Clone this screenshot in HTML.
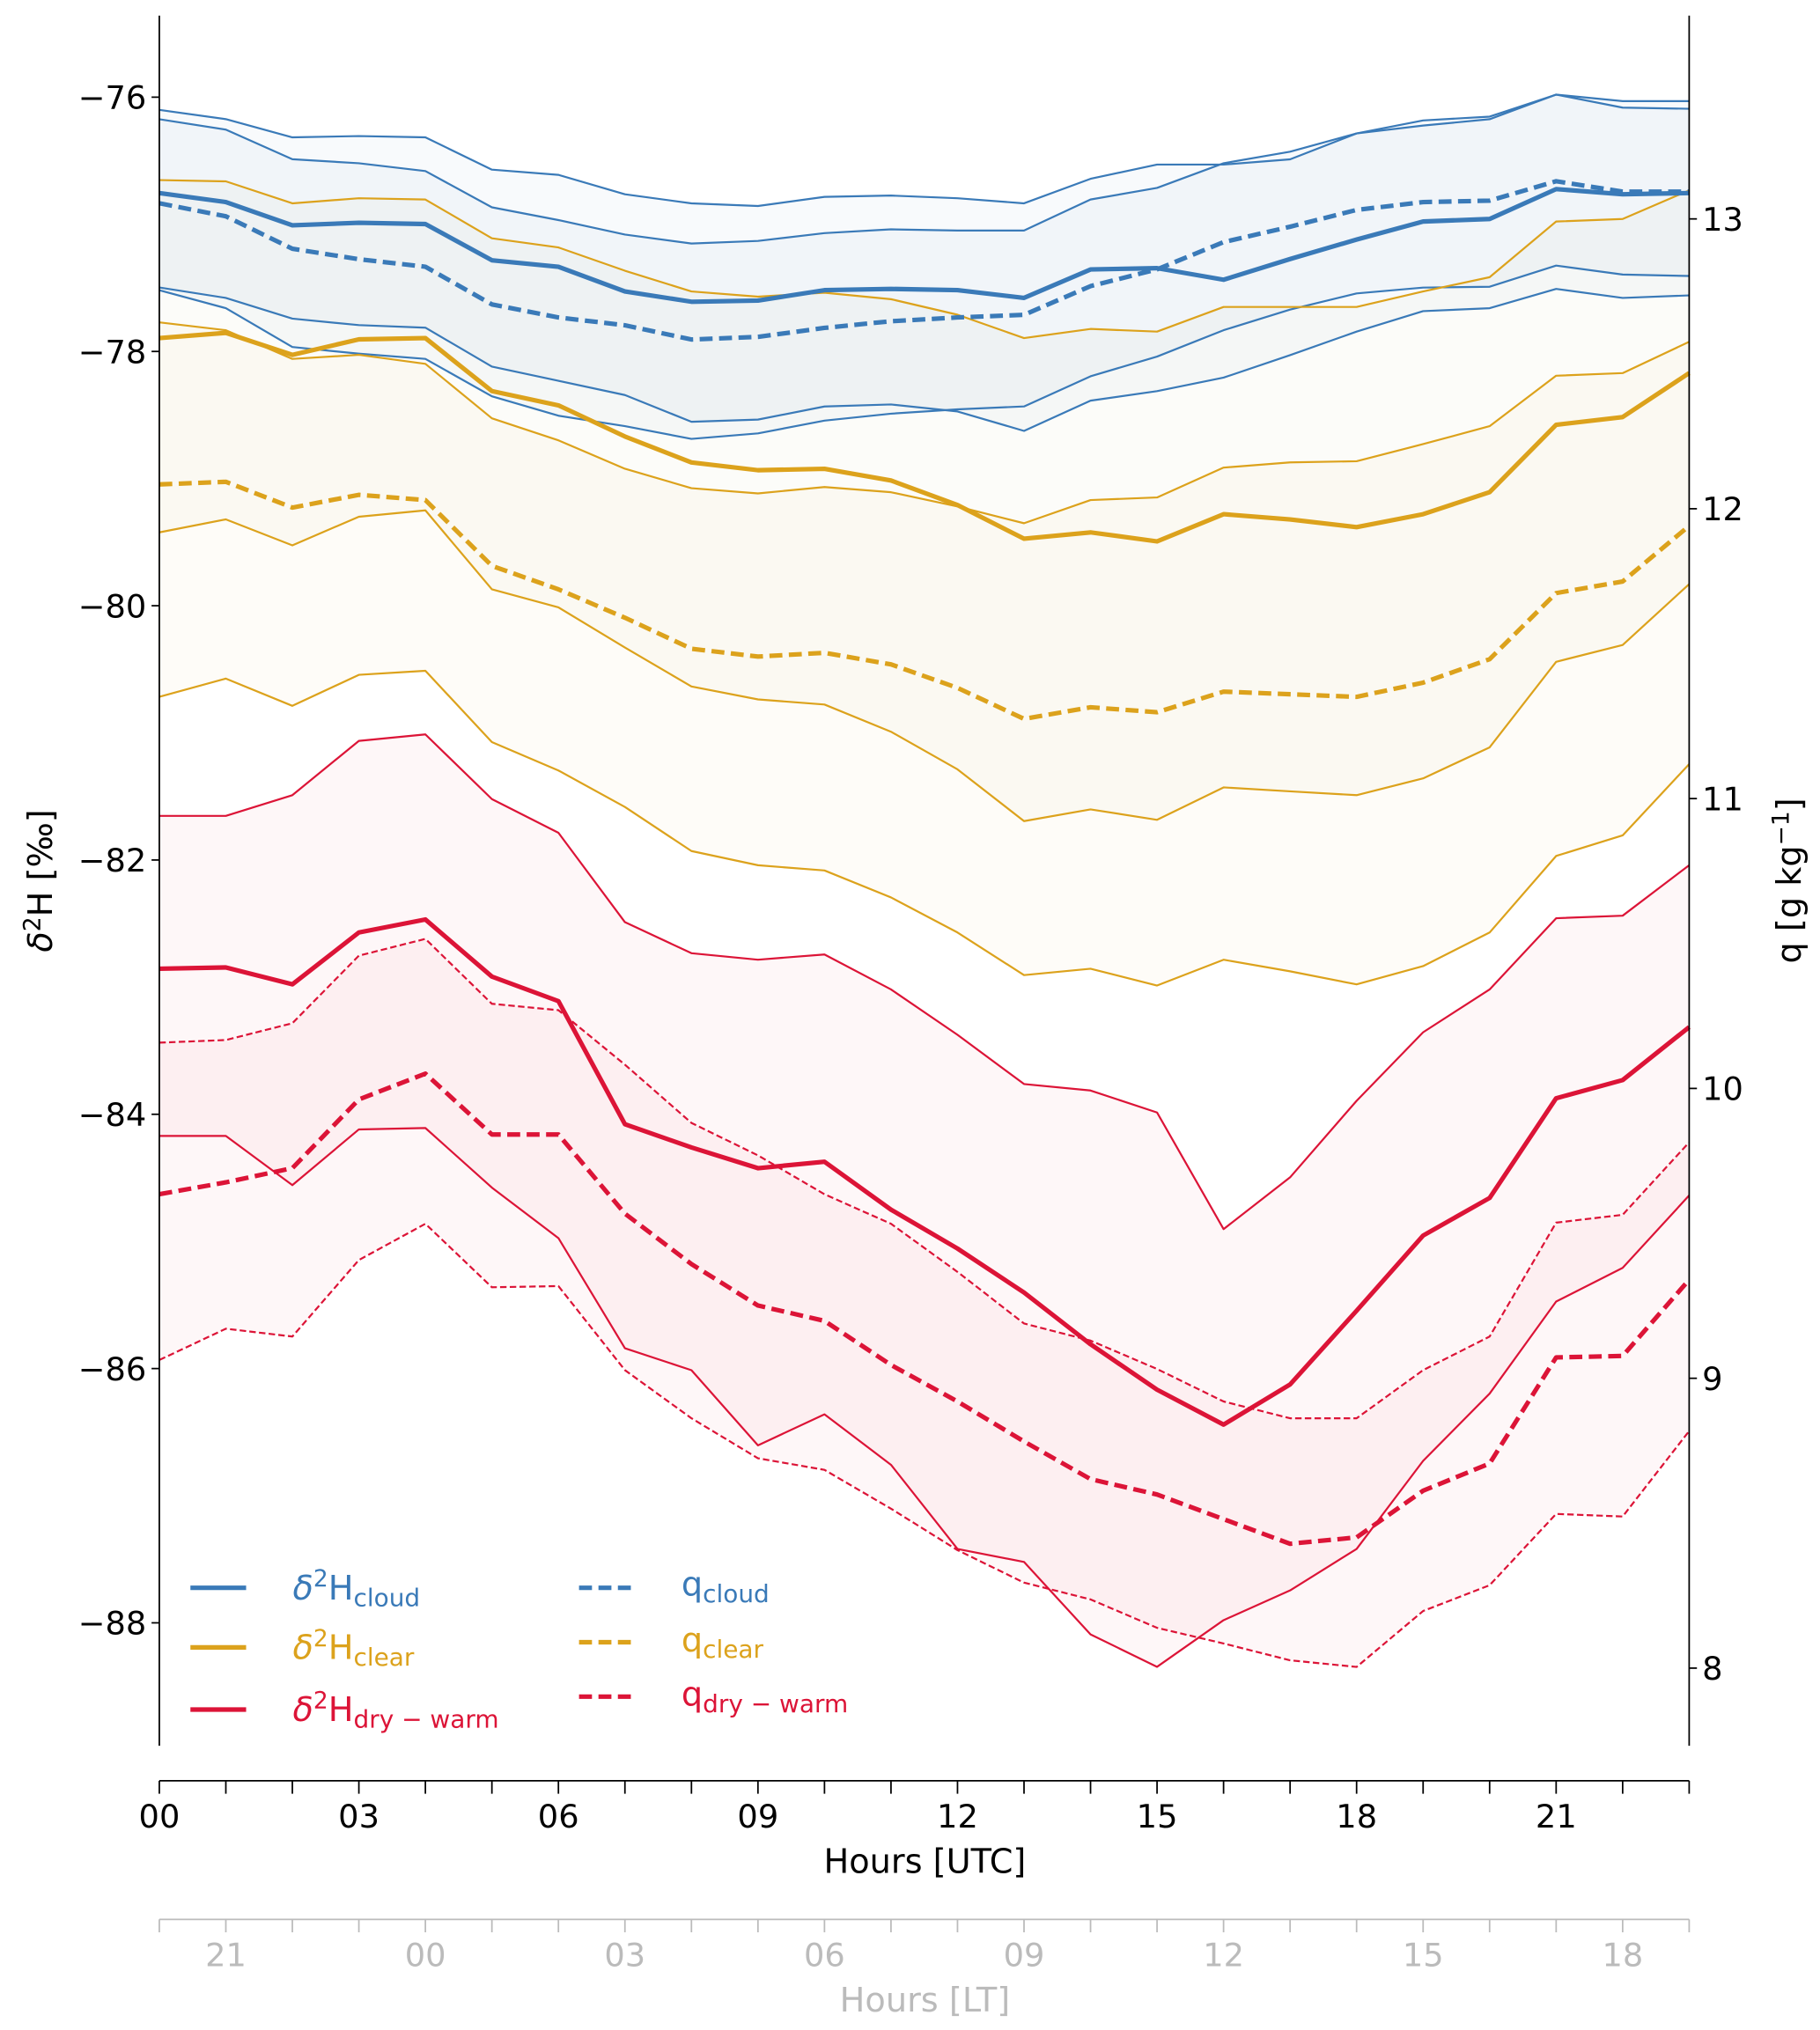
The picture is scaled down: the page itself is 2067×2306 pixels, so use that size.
<!DOCTYPE html>
<html><head><meta charset="utf-8"><style>
html,body{margin:0;padding:0;background:#fff}
svg{display:block}
text{font-family:"DejaVu Sans","Liberation Sans",sans-serif}
</style></head><body>
<svg id="chart" width="2067" height="2306" viewBox="0 0 1405 1567.4" xmlns="http://www.w3.org/2000/svg">
<g id="fills"></g>
<g id="lines"></g>
<g id="axes"></g>
<g id="legend">
  <line x1="147" y1="1226" x2="190" y2="1226" stroke="#3a7ab8" stroke-width="3.5"/>
  <text x="226" y="1235" font-size="26" fill="#3a7ab8"><tspan font-style="italic">δ</tspan><tspan dy="-10" font-size="18">2</tspan><tspan dy="10">H</tspan><tspan font-size="19" dy="5">cloud</tspan></text>
  <line x1="147" y1="1272" x2="190" y2="1272" stroke="#dca21c" stroke-width="3.5"/>
  <text x="226" y="1281" font-size="26" fill="#dca21c"><tspan font-style="italic">δ</tspan><tspan dy="-10" font-size="18">2</tspan><tspan dy="10">H</tspan><tspan font-size="19" dy="5">clear</tspan></text>
  <line x1="147" y1="1320" x2="190" y2="1320" stroke="#dc1437" stroke-width="3.5"/>
  <text x="226" y="1329" font-size="26" fill="#dc1437"><tspan font-style="italic">δ</tspan><tspan dy="-10" font-size="18">2</tspan><tspan dy="10">H</tspan><tspan font-size="19" dy="5">dry − warm</tspan></text>
  <line x1="447" y1="1226" x2="490" y2="1226" stroke="#3a7ab8" stroke-width="3.5" stroke-dasharray="10 5"/>
  <text x="526" y="1232" font-size="26" fill="#3a7ab8">q<tspan font-size="19" dy="5">cloud</tspan></text>
  <line x1="447" y1="1268" x2="490" y2="1268" stroke="#dca21c" stroke-width="3.5" stroke-dasharray="10 5"/>
  <text x="526" y="1275" font-size="26" fill="#dca21c">q<tspan font-size="19" dy="5">clear</tspan></text>
  <line x1="447" y1="1310" x2="490" y2="1310" stroke="#dc1437" stroke-width="3.5" stroke-dasharray="10 5"/>
  <text x="526" y="1317" font-size="26" fill="#dc1437">q<tspan font-size="19" dy="5">dry − warm</tspan></text>
</g>
</svg>
<script>
const hours = [0,1,2,3,4,5,6,7,8,9,10,11,12,13,14,15,16,17,18,19,20,21,22,23];
const leftTicks = [-76,-78,-80,-82,-84,-86,-88];
const rightTicks = [8,9,10,11,12,13];
const utcLabels = ['00','03','06','09','12','15','18','21'];
const utcLabelHours = [0,3,6,9,12,15,18,21];
const ltLabels = ['21','00','03','06','09','12','15','18'];
const ltLabelHours = [1,4,7,10,13,16,19,22];

const d2hCloud = [-76.754,-76.825,-77.008,-76.988,-76.998,-77.283,-77.334,-77.528,-77.609,-77.6,-77.518,-77.508,-77.518,-77.579,-77.355,-77.345,-77.436,-77.273,-77.12,-76.978,-76.958,-76.723,-76.764,-76.754];
const d2hCloudHi = [-76.10,-76.173,-76.316,-76.306,-76.316,-76.57,-76.611,-76.764,-76.835,-76.856,-76.784,-76.774,-76.795,-76.835,-76.642,-76.53,-76.53,-76.489,-76.285,-76.183,-76.153,-75.98,-76.031,-76.031];
const d2hCloudLo = [-77.497,-77.579,-77.742,-77.793,-77.813,-78.119,-78.231,-78.343,-78.553,-78.536,-78.433,-78.417,-78.472,-78.625,-78.387,-78.312,-78.206,-78.029,-77.844,-77.683,-77.66,-77.508,-77.579,-77.559];
const qCloud = [13.054,13.009,12.897,12.861,12.835,12.705,12.66,12.633,12.584,12.593,12.624,12.647,12.66,12.669,12.768,12.826,12.92,12.973,13.031,13.058,13.063,13.13,13.094,13.094];
const qCloudHi = [13.344,13.308,13.206,13.192,13.165,13.04,12.996,12.946,12.915,12.924,12.951,12.964,12.96,12.96,13.067,13.107,13.192,13.232,13.295,13.322,13.344,13.429,13.384,13.38];
const qCloudLo = [12.754,12.692,12.558,12.535,12.517,12.388,12.321,12.285,12.241,12.26,12.304,12.328,12.343,12.353,12.457,12.525,12.616,12.687,12.743,12.763,12.766,12.839,12.808,12.803];

const d2hClear = [-77.895,-77.854,-78.027,-77.905,-77.895,-78.312,-78.424,-78.669,-78.873,-78.934,-78.923,-79.015,-79.208,-79.473,-79.423,-79.494,-79.28,-79.321,-79.382,-79.28,-79.107,-78.577,-78.516,-78.17];
const d2hClearHi = [-76.652,-76.662,-76.835,-76.795,-76.805,-77.11,-77.182,-77.365,-77.528,-77.569,-77.538,-77.589,-77.711,-77.895,-77.823,-77.844,-77.65,-77.65,-77.65,-77.528,-77.416,-76.978,-76.958,-76.733];
const d2hClearLo = [-79.423,-79.321,-79.525,-79.3,-79.25,-79.871,-80.013,-80.329,-80.635,-80.737,-80.777,-80.991,-81.287,-81.694,-81.602,-81.684,-81.429,-81.46,-81.49,-81.358,-81.114,-80.441,-80.309,-79.83];
const qClear = [12.084,12.093,12.004,12.048,12.03,11.803,11.722,11.624,11.517,11.49,11.503,11.463,11.382,11.275,11.315,11.298,11.369,11.36,11.351,11.4,11.481,11.709,11.749,11.941];
const qClearHi = [12.643,12.616,12.517,12.531,12.5,12.312,12.236,12.138,12.071,12.053,12.075,12.057,12.008,11.95,12.03,12.039,12.142,12.16,12.164,12.223,12.285,12.459,12.468,12.576];
const qClearLo = [11.351,11.414,11.32,11.427,11.441,11.195,11.097,10.971,10.819,10.77,10.752,10.659,10.538,10.391,10.413,10.355,10.444,10.404,10.359,10.422,10.538,10.802,10.873,11.119];

const d2hDry = [-82.855,-82.845,-82.978,-82.57,-82.468,-82.917,-83.11,-84.078,-84.261,-84.424,-84.373,-84.75,-85.056,-85.402,-85.809,-86.166,-86.441,-86.125,-85.545,-84.954,-84.658,-83.874,-83.731,-83.314];
const d2hDryHi = [-81.653,-81.653,-81.49,-81.063,-81.012,-81.521,-81.786,-82.489,-82.733,-82.784,-82.743,-83.018,-83.375,-83.762,-83.813,-83.986,-84.903,-84.496,-83.894,-83.355,-83.018,-82.458,-82.438,-82.041];
const d2hDryLo = [-84.17,-84.17,-84.557,-84.119,-84.108,-84.577,-84.974,-85.84,-86.013,-86.604,-86.36,-86.757,-87.419,-87.521,-88.091,-88.346,-87.979,-87.745,-87.419,-86.726,-86.197,-85.473,-85.208,-84.638];
const qDry = [9.635,9.676,9.725,9.962,10.051,9.841,9.841,9.568,9.394,9.251,9.198,9.046,8.92,8.782,8.652,8.599,8.514,8.429,8.451,8.612,8.706,9.072,9.077,9.34];
const qDryHi = [10.158,10.167,10.225,10.458,10.516,10.292,10.27,10.082,9.881,9.769,9.635,9.533,9.367,9.189,9.13,9.032,8.92,8.862,8.862,9.028,9.144,9.537,9.564,9.814];
const qDryLo = [9.063,9.171,9.144,9.408,9.533,9.314,9.318,9.028,8.862,8.724,8.684,8.55,8.407,8.295,8.237,8.139,8.085,8.027,8.004,8.197,8.286,8.532,8.523,8.818];

const NS='http://www.w3.org/2000/svg';
const X0=123, X1=1304, YT=12, YB=1348;
const xS = h => X0 + (X1-X0)*h/23;
const yL = v => 75 + (-76 - v)*98.17;
const yR = q => 169 + (13 - q)*223.8;

function mk(tag, attrs, parent){const e=document.createElementNS(NS,tag);for(const k in attrs)e.setAttribute(k,attrs[k]);parent.appendChild(e);return e;}
const fills=document.getElementById('fills'), lines=document.getElementById('lines'), axes=document.getElementById('axes');

function pts(arr, ys){return arr.map((v,i)=>xS(hours[i]).toFixed(2)+','+ys(v).toFixed(2));}
function band(hi, lo, ys, color, name){
  const p = pts(hi,ys).concat(pts(lo,ys).reverse());
  const e = mk('polygon',{points:p.join(' '),fill:color,'fill-opacity':0.035,stroke:'none'},fills);
  
  
}
function line(arr, ys, color, w, dash, name){
  const e = mk('polyline',{points:pts(arr,ys).join(' '),fill:'none',stroke:color,'stroke-width':w,'stroke-linejoin':'round'},lines);
  if(dash) e.setAttribute('stroke-dasharray',dash);
  
  
}
const B='#3a7ab8', Y='#dca21c', R='#dc1437';
band(d2hCloudHi,d2hCloudLo,yL,B,'band-d2h-cloud');
band(qCloudHi,qCloudLo,yR,B,'band-q-cloud');
band(d2hClearHi,d2hClearLo,yL,'#b5a060','band-d2h-clear');
band(qClearHi,qClearLo,yR,'#d8b040','band-q-clear');
band(d2hDryHi,d2hDryLo,yL,R,'band-d2h-drywarm');
band(qDryHi,qDryLo,yR,R,'band-q-drywarm');

line(d2hCloudHi,yL,B,1.5,null,'line-d2h-cloud-upper');
line(d2hCloudLo,yL,B,1.5,null,'line-d2h-cloud-lower');
line(qCloudHi,yR,B,1.5,null,'line-q-cloud-upper');
line(qCloudLo,yR,B,1.5,null,'line-q-cloud-lower');
line(d2hClearHi,yL,Y,1.5,null,'line-d2h-clear-upper');
line(d2hClearLo,yL,Y,1.5,null,'line-d2h-clear-lower');
line(qClearHi,yR,Y,1.5,null,'line-q-clear-upper');
line(qClearLo,yR,Y,1.5,null,'line-q-clear-lower');
line(d2hDryHi,yL,R,1.5,null,'line-d2h-drywarm-upper');
line(d2hDryLo,yL,R,1.5,null,'line-d2h-drywarm-lower');
line(qDryHi,yR,R,1.5,'5 2.5','line-q-drywarm-upper');
line(qDryLo,yR,R,1.5,'5 2.5','line-q-drywarm-lower');
line(d2hCloud,yL,B,3.5,null,'line-d2h-cloud');
line(qCloud,yR,B,3.5,'10 5','line-q-cloud');
line(d2hClear,yL,Y,3.5,null,'line-d2h-clear');
line(qClear,yR,Y,3.5,'10 5','line-q-clear');
line(d2hDry,yL,R,3.5,null,'line-d2h-drywarm');
line(qDry,yR,R,3.5,'10 5','line-q-drywarm');

let e;
e=mk('line',{x1:X0,y1:YT,x2:X0,y2:YB,stroke:'#000','stroke-width':1.2},axes);


e=mk('line',{x1:X1,y1:YT,x2:X1,y2:YB,stroke:'#000','stroke-width':1.2},axes);


e=mk('line',{x1:X0,y1:1375,x2:X1,y2:1375,stroke:'#000','stroke-width':1.2},axes);


e=mk('line',{x1:X0,y1:1482,x2:X1,y2:1482,stroke:'#bbb','stroke-width':1.2},axes);



leftTicks.forEach(v=>{
  const y=yL(v);
  mk('line',{x1:X0-6,y1:y,x2:X0,y2:y,stroke:'#000','stroke-width':1.2},axes);
  const t=mk('text',{x:X0-10,y:y+9,'font-size':25,'text-anchor':'end',fill:'#000'},axes);
  t.textContent='−'+Math.abs(v);
  
  
});
rightTicks.forEach(v=>{
  const y=yR(v);
  mk('line',{x1:X1,y1:y,x2:X1+6,y2:y,stroke:'#000','stroke-width':1.2},axes);
  const t=mk('text',{x:X1+10,y:y+9,'font-size':25,fill:'#000'},axes);
  t.textContent=String(v);
  
  
});
hours.forEach(h=>{
  const x=xS(h);
  mk('line',{x1:x,y1:1375,x2:x,y2:1385,stroke:'#000','stroke-width':1.2},axes);
  mk('line',{x1:x,y1:1482,x2:x,y2:1492,stroke:'#bbb','stroke-width':1.2},axes);
});
utcLabelHours.forEach((h,i)=>{
  const t=mk('text',{x:xS(h),y:1411,'font-size':25,'text-anchor':'middle',fill:'#000'},axes);
  t.textContent=utcLabels[i];
  
  
});
ltLabelHours.forEach((h,i)=>{
  const t=mk('text',{x:xS(h),y:1518,'font-size':25,'text-anchor':'middle',fill:'#bbb'},axes);
  t.textContent=ltLabels[i];
  
  
});
e=mk('text',{x:714,y:1446,'font-size':26,'text-anchor':'middle',fill:'#000'},axes);
e.textContent='Hours [UTC]';


e=mk('text',{x:714,y:1553,'font-size':26,'text-anchor':'middle',fill:'#bbb'},axes);
e.textContent='Hours [LT]';


e=mk('text',{x:0,y:0,'font-size':26,'text-anchor':'middle',fill:'#000',transform:'translate(40,680) rotate(-90)'},axes);
e.innerHTML='<tspan font-style="italic">δ</tspan><tspan dy="-9" font-size="18">2</tspan><tspan dy="9">H [‰]</tspan>';


e=mk('text',{x:0,y:0,'font-size':26,'text-anchor':'middle',fill:'#000',transform:'translate(1390,680) rotate(-90)'},axes);
e.innerHTML='q [g kg<tspan dy="-9" font-size="18">−1</tspan><tspan dy="9">]</tspan>';


</script>
</body></html>
